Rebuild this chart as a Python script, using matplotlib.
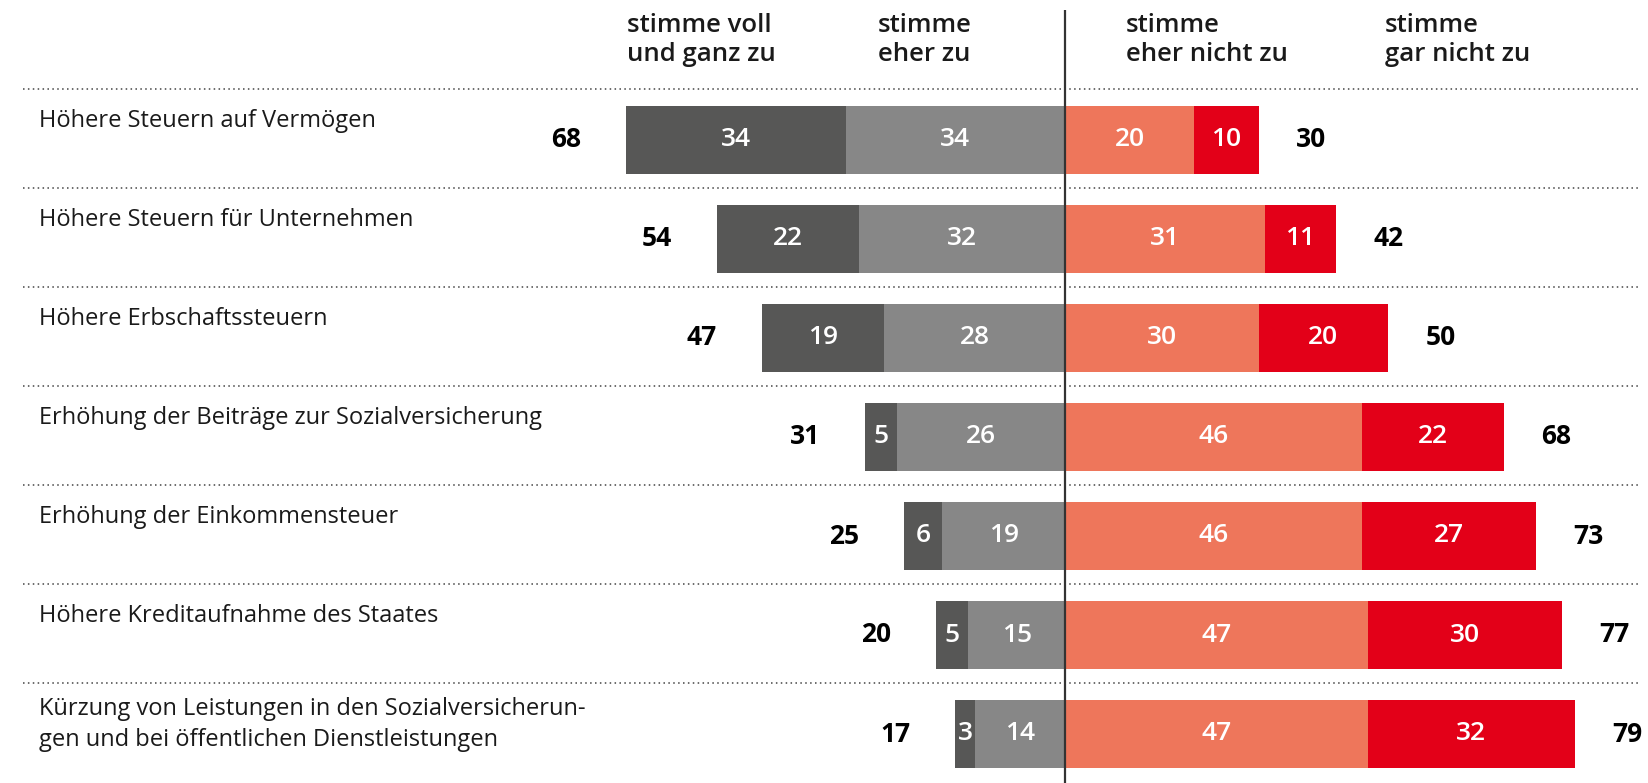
import matplotlib
matplotlib.use("Agg")
import matplotlib.pyplot as plt
from matplotlib import font_manager

# ---------------- data ----------------
items = [
    "Höhere Steuern auf Vermögen",
    "Höhere Steuern für Unternehmen",
    "Höhere Erbschaftssteuern",
    "Erhöhung der Beiträge zur Sozialversicherung",
    "Erhöhung der Einkommensteuer",
    "Höhere Kreditaufnahme des Staates",
    "Kürzung von Leistungen in den Sozialversicherun-\ngen und bei öffentlichen Dienstleistungen",
]
voll_zu = [34, 22, 19, 5, 6, 5, 3]
eher_zu = [34, 32, 28, 26, 19, 15, 14]
eher_nicht = [20, 31, 30, 46, 46, 47, 47]
gar_nicht = [10, 11, 20, 22, 27, 30, 32]
total_zu = [68, 54, 47, 31, 25, 20, 17]
total_nicht = [30, 42, 50, 68, 73, 77, 79]
headers = ["stimme voll\nund ganz zu", "stimme\neher zu",
           "stimme\neher nicht zu", "stimme\ngar nicht zu"]

# ---------------- style ----------------
names = {f.name for f in font_manager.fontManager.ttflist}
fam = [f for f in ["Open Sans", "DejaVu Sans"] if f in names]
plt.rcParams["font.family"] = fam

c_dark = "#575756"
c_grey = "#878787"
c_salmon = "#EE765B"
c_red = "#E30018"

W, H = 1648, 783
fig = plt.figure(figsize=(W / 100, H / 100), dpi=100)
ax = fig.add_axes([0, 0, 1, 1])

PX = 6.45          # pixels per percentage point
X0 = 1065          # pixel position of the zero line
ROW = 99.0         # pixel height of a row
Y0 = 140           # pixel y of first row centre

ax.set_xlim(-X0 / PX, (W - X0) / PX)
ax.set_ylim((H - Y0) / ROW, -Y0 / ROW)
ax.axis("off")

def px2x(p):
    return (p - X0) / PX

n = len(items)
ys = list(range(n))
bh = 68 / ROW

# bars
ax.barh(ys, [-v for v in eher_zu], height=bh, color=c_grey, left=0)
ax.barh(ys, [-v for v in voll_zu], height=bh, color=c_dark,
        left=[-v for v in eher_zu])
ax.barh(ys, eher_nicht, height=bh, color=c_salmon, left=0)
ax.barh(ys, gar_nicht, height=bh, color=c_red, left=eher_nicht)

fs_num = 19
wt_num = "semibold"
for i in range(n):
    # in-bar values
    ax.text(-eher_zu[i] - voll_zu[i] / 2, i, str(voll_zu[i]), color="white",
            ha="center", va="center", fontsize=fs_num, fontweight=wt_num)
    ax.text(-eher_zu[i] / 2, i, str(eher_zu[i]), color="white",
            ha="center", va="center", fontsize=fs_num, fontweight=wt_num)
    ax.text(eher_nicht[i] / 2, i, str(eher_nicht[i]), color="white",
            ha="center", va="center", fontsize=fs_num, fontweight=wt_num)
    ax.text(eher_nicht[i] + gar_nicht[i] / 2, i, str(gar_nicht[i]), color="white",
            ha="center", va="center", fontsize=fs_num, fontweight=wt_num)
    # totals
    ax.text(-total_zu[i] - 60 / PX, i, str(total_zu[i]), color="black",
            ha="center", va="center", fontsize=fs_num, fontweight="bold")
    ax.text(total_nicht[i] + 53 / PX, i, str(total_nicht[i]), color="black",
            ha="center", va="center", fontsize=fs_num, fontweight="bold")
    # dotted separator above row
    ax.plot([px2x(23), px2x(1640)], [i - 0.515, i - 0.515], color="#444444",
            lw=1.1, linestyle=(0, (1, 2.2)), solid_capstyle="butt")
    # row label
    lines = items[i].split("\n")
    if len(lines) == 1:
        ax.text(px2x(39), i - 0.136, lines[0], ha="left", va="baseline",
                fontsize=17, color="#1a1a1a")
    else:
        for k, ln in enumerate(lines):
            ax.text(px2x(39), i - 0.19 + k * 31 / ROW, ln, ha="left",
                    va="baseline", fontsize=17, color="#1a1a1a")

# headers
hx = [627, 878, 1126, 1385]
for x, h in zip(hx, headers):
    for k, ln in enumerate(h.split("\n")):
        ax.text(px2x(x), (26 + 29 * k - Y0) / ROW, ln, ha="left", va="center",
                fontsize=18.5, color="#1a1a1a", fontweight="semibold")

# zero line
ax.plot([0, 0], [(10 - Y0) / ROW, (H - Y0) / ROW], color="#333333", lw=1.6,
        solid_capstyle="butt")

fig.savefig("out.png", dpi=100)
